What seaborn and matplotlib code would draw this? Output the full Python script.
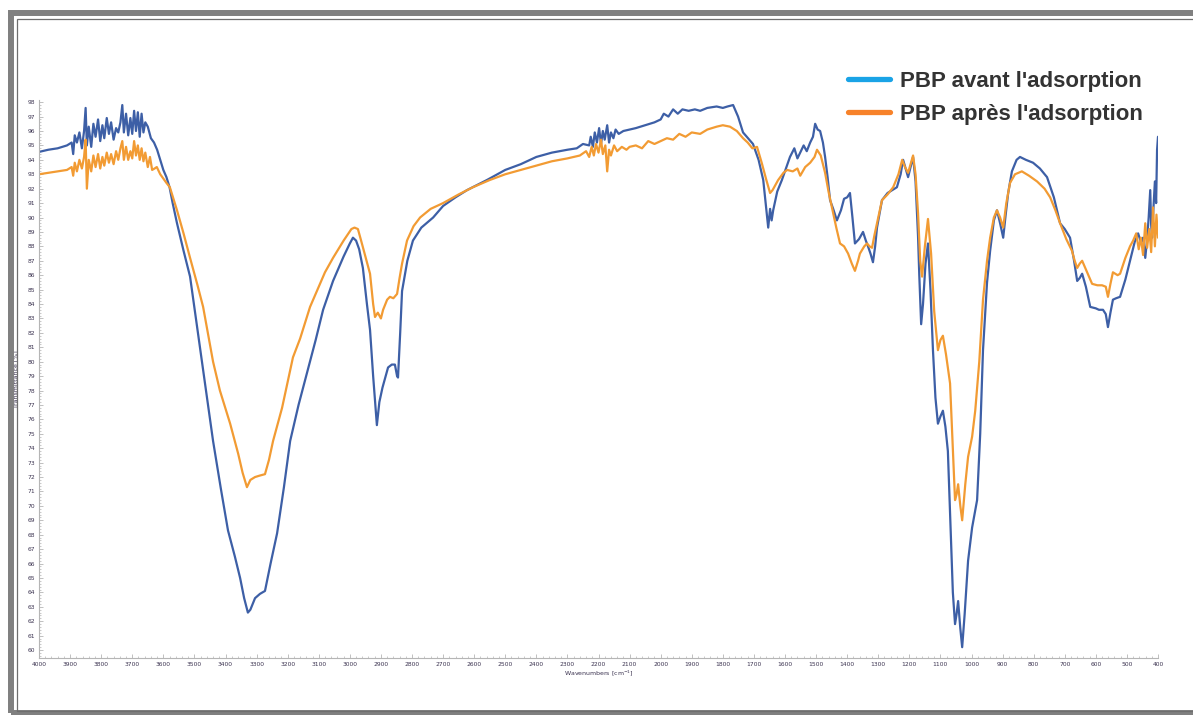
import numpy as np
import pandas as pd
import matplotlib
matplotlib.use("Agg")
import matplotlib.pyplot as plt
import seaborn as sns
from matplotlib.lines import Line2D
from matplotlib.patches import Rectangle
from matplotlib.ticker import MultipleLocator

# FTIR spectra: wavenumber (cm-1) -> transmittance (%)
wn_avant = [4000, 3970, 3940, 3910, 3895, 3890, 3885, 3878, 3870, 3862, 3855, 3850, 3846, 3840,
            3832, 3825, 3818, 3810, 3803, 3796, 3790, 3782, 3775, 3768, 3760, 3752, 3745, 3738,
            3732, 3727, 3720, 3713, 3706, 3700, 3694, 3688, 3682, 3676, 3670, 3664, 3658, 3650,
            3640, 3630, 3620, 3610, 3600, 3590, 3580, 3570, 3556, 3535, 3514, 3482, 3466, 3440,
            3415, 3392, 3370, 3353, 3340, 3328, 3320, 3305, 3289, 3273, 3255, 3234, 3212, 3192,
            3165, 3138, 3110, 3086, 3054, 3020, 3000, 2990, 2980, 2970, 2958, 2945, 2935, 2925,
            2913, 2905, 2895, 2877, 2865, 2855, 2848, 2845, 2838, 2832, 2815, 2797, 2770, 2732,
            2700, 2660, 2623, 2559, 2500, 2450, 2400, 2350, 2300, 2270, 2250, 2230, 2225, 2218,
            2212, 2205, 2198, 2192, 2186, 2180, 2172, 2166, 2160, 2152, 2145, 2135, 2120, 2100,
            2080, 2050, 2020, 2000, 1990, 1975, 1960, 1945, 1930, 1910, 1890, 1873, 1850, 1820,
            1800, 1785, 1767, 1751, 1735, 1715, 1703, 1685, 1670, 1660, 1654, 1648, 1643, 1638,
            1625, 1610, 1597, 1584, 1570, 1560, 1551, 1540, 1530, 1519, 1510, 1503, 1495, 1487,
            1478, 1471, 1463, 1455, 1445, 1433, 1420, 1410, 1400, 1391, 1383, 1375, 1362, 1349,
            1340, 1333, 1325, 1317, 1310, 1304, 1288, 1270, 1255, 1240, 1228, 1220, 1212, 1204,
            1196, 1188, 1180, 1172, 1168, 1162, 1156, 1148, 1140, 1132, 1124, 1116, 1108, 1100,
            1092, 1084, 1076, 1068, 1060, 1053, 1048, 1043, 1036, 1030, 1022, 1011, 998, 982,
            972, 963, 950, 940, 928, 918, 908, 898, 890, 882, 870, 855, 844, 825, 802, 780, 757,
            735, 715, 700, 683, 670, 660, 652, 644, 632, 618, 600, 590, 577, 568, 561, 553, 545,
            535, 522, 505, 490, 475, 464, 455, 448, 441, 435, 430, 425, 422, 419, 415, 410, 406,
            403, 400]
t_avant = [94.55, 94.7, 94.8, 95.0, 95.2, 94.4, 95.7, 95.2, 95.9, 94.8, 96.0, 97.6, 95.0, 96.3,
           94.9, 96.5, 95.6, 96.8, 95.3, 96.4, 95.5, 96.9, 95.8, 96.6, 95.4, 96.2, 95.9, 96.6,
           97.8, 95.9, 97.2, 95.7, 96.9, 95.8, 97.4, 96.0, 97.3, 95.6, 97.2, 95.9, 96.6, 96.3,
           95.5, 95.2, 94.7, 94.0, 93.3, 92.8, 92.1, 91.0, 89.6, 87.7, 85.9, 81.0, 78.5, 74.5,
           71.2, 68.3, 66.5, 65.0, 63.6, 62.6, 62.8, 63.6, 63.9, 64.1, 66.0, 68.1, 71.3, 74.5,
           77.0, 79.2, 81.5, 83.6, 85.6, 87.3, 88.2, 88.6, 88.4, 87.8, 86.5, 84.0, 82.2, 79.0,
           75.6, 77.2, 78.2, 79.6, 79.8, 79.8, 79.0, 78.9, 82.0, 84.9, 87.0, 88.4, 89.3, 90.0,
           90.8, 91.4, 91.9, 92.6, 93.3, 93.7, 94.2, 94.5, 94.7, 94.8, 95.1, 95.0, 95.6, 94.9,
           95.9, 95.2, 96.2, 95.1, 96.0, 95.4, 96.4, 95.2, 95.9, 95.5, 96.1, 95.8, 96.0, 96.1,
           96.2, 96.4, 96.6, 96.8, 97.2, 97.0, 97.5, 97.2, 97.5, 97.4, 97.5, 97.4, 97.6, 97.7,
           97.6, 97.7, 97.8, 97.0, 95.9, 95.4, 95.1, 94.0, 92.6, 90.5, 89.3, 90.6, 89.8, 90.5,
           91.8, 92.6, 93.4, 94.2, 94.8, 94.1, 94.5, 95.0, 94.6, 95.2, 95.6, 96.5, 96.1, 96.0,
           95.2, 94.2, 92.8, 91.2, 90.6, 89.8, 90.5, 91.3, 91.4, 91.7, 90.0, 88.2, 88.5, 89.0,
           88.4, 88.0, 87.5, 86.9, 88.0, 89.3, 91.2, 91.7, 91.9, 92.1, 93.0, 94.0, 93.4, 92.8,
           93.5, 94.2, 92.5, 88.7, 86.0, 82.6, 84.0, 86.8, 88.2, 85.0, 80.8, 77.5, 75.7, 76.2,
           76.6, 75.5, 73.8, 69.0, 64.0, 61.8, 62.5, 63.4, 61.5, 60.2, 62.5, 66.2, 68.5, 70.4,
           75.0, 80.8, 85.5, 87.7, 89.8, 90.5, 89.6, 88.6, 90.2, 91.7, 93.2, 94.0, 94.2, 94.0,
           93.8, 93.4, 92.8, 91.4, 89.6, 89.2, 88.6, 87.0, 85.6, 85.8, 86.1, 85.2, 83.8, 83.7,
           83.6, 83.6, 83.3, 82.4, 83.4, 84.3, 84.4, 84.5, 85.7, 87.0, 88.3, 88.9, 88.3, 88.6,
           87.2, 88.5, 90.0, 91.9, 89.5, 88.6, 90.5, 92.5, 91.0, 94.7, 95.6]

wn_apres = [4000, 3970, 3940, 3910, 3895, 3890, 3885, 3878, 3870, 3862, 3855, 3850, 3846, 3840,
            3832, 3825, 3818, 3810, 3803, 3796, 3790, 3782, 3775, 3768, 3760, 3752, 3745, 3738,
            3732, 3727, 3720, 3713, 3706, 3700, 3694, 3688, 3682, 3676, 3670, 3664, 3658, 3650,
            3643, 3636, 3628, 3621, 3610, 3600, 3590, 3579, 3556, 3535, 3514, 3490, 3472, 3440,
            3418, 3385, 3359, 3345, 3331, 3320, 3305, 3290, 3273, 3260, 3247, 3218, 3183, 3160,
            3128, 3106, 3080, 3054, 3020, 2995, 2985, 2974, 2965, 2950, 2935, 2925, 2919, 2910,
            2900, 2893, 2880, 2871, 2860, 2848, 2840, 2832, 2816, 2795, 2774, 2740, 2700, 2650,
            2604, 2550, 2500, 2450, 2400, 2350, 2300, 2260, 2240, 2230, 2222, 2215, 2208, 2200,
            2192, 2186, 2178, 2172, 2166, 2160, 2150, 2140, 2125, 2110, 2100, 2080, 2060, 2040,
            2020, 2000, 1980, 1960, 1940, 1920, 1900, 1873, 1850, 1820, 1800, 1777, 1755, 1735,
            1720, 1705, 1690, 1675, 1660, 1648, 1640, 1622, 1605, 1593, 1575, 1560, 1551, 1535,
            1519, 1505, 1497, 1485, 1471, 1460, 1449, 1435, 1423, 1410, 1397, 1385, 1375, 1365,
            1359, 1345, 1336, 1328, 1320, 1312, 1304, 1288, 1270, 1252, 1235, 1223, 1214, 1204,
            1196, 1188, 1180, 1172, 1165, 1159, 1150, 1140, 1130, 1120, 1108, 1100, 1092, 1082,
            1069, 1060, 1053, 1048, 1043, 1036, 1030, 1020, 1011, 998, 988, 975, 963, 950, 940,
            928, 918, 908, 898, 888, 876, 860, 838, 815, 789, 765, 747, 730, 715, 695, 677, 668,
            660, 652, 644, 632, 612, 595, 580, 568, 561, 553, 545, 530, 522, 505, 490, 480, 470,
            462, 455, 448, 441, 435, 428, 422, 416, 410, 405, 400]
t_apres = [93.0, 93.1, 93.2, 93.3, 93.5, 92.9, 93.8, 93.2, 94.0, 93.4, 94.2, 95.4, 92.0, 94.0,
           93.2, 94.3, 93.5, 94.4, 93.4, 94.2, 93.6, 94.5, 93.8, 94.4, 93.7, 94.6, 94.0, 94.8,
           95.3, 94.0, 94.9, 94.0, 94.6, 94.1, 95.3, 94.3, 95.0, 94.0, 94.8, 93.9, 94.5, 93.5,
           94.2, 93.3, 93.4, 93.5, 93.0, 92.7, 92.4, 92.1, 90.5, 88.9, 87.2, 85.3, 83.8, 80.0,
           78.0, 75.7, 73.6, 72.3, 71.3, 71.8, 72.0, 72.1, 72.2, 73.2, 74.5, 76.8, 80.3, 81.6,
           83.8, 84.9, 86.2, 87.2, 88.4, 89.2, 89.3, 89.2, 88.5, 87.3, 86.1, 84.0, 83.1, 83.4,
           83.0, 83.6, 84.3, 84.5, 84.4, 84.7, 85.8, 86.8, 88.4, 89.4, 90.0, 90.6, 91.0, 91.6,
           92.1, 92.6, 93.0, 93.3, 93.6, 93.9, 94.1, 94.3, 94.6, 94.2, 94.9, 94.3, 95.1, 94.5,
           95.4, 94.4, 95.0, 93.2, 94.7, 94.3, 95.0, 94.6, 94.9, 94.7, 94.9, 95.0, 94.8, 95.3,
           95.1, 95.3, 95.5, 95.4, 95.8, 95.6, 95.9, 95.8, 96.1, 96.3, 96.4, 96.3, 96.0, 95.5,
           95.2, 94.8, 94.9, 93.8, 92.6, 91.7, 91.9, 92.6, 93.1, 93.3, 93.2, 93.4, 92.9, 93.5,
           93.8, 94.2, 94.7, 94.3, 93.1, 91.8, 90.7, 89.3, 88.2, 88.0, 87.5, 86.8, 86.3, 87.0,
           87.5, 88.0, 88.2, 88.0, 87.9, 88.8, 89.6, 91.2, 91.6, 92.1, 93.0, 94.0, 93.5, 93.1,
           93.7, 94.3, 93.0, 90.3, 87.0, 85.9, 88.0, 89.9, 87.5, 83.5, 80.8, 81.5, 81.8, 80.5,
           78.5, 74.0, 70.4, 70.8, 71.5, 70.0, 69.0, 71.5, 73.4, 74.8, 76.6, 80.0, 84.3, 87.0, 88.6,
           90.0, 90.5, 90.0, 89.3, 91.0, 92.4, 93.0, 93.2, 92.9, 92.5, 92.0, 91.4, 90.5, 89.6, 88.5,
           87.7, 87.0, 86.5, 86.8, 87.0, 86.4, 85.4, 85.3, 85.3, 85.2, 84.5, 85.4, 86.2, 86.0, 86.1,
           87.2, 88.0, 88.4, 88.9, 87.8, 88.6, 87.4, 89.6, 87.9, 89.2, 87.6, 90.7, 88.0, 90.2, 88.6]

labels = ["PBP avant l'adsorption", "PBP après l'adsorption"]
line_colors = {labels[0]: "#3d5fa6", labels[1]: "#f29b33"}
legend_colors = ["#1aa3e6", "#f7822a"]

df = pd.concat([
    pd.DataFrame({"wavenumber": wn_avant, "T": t_avant, "sample": labels[0]}),
    pd.DataFrame({"wavenumber": wn_apres, "T": t_apres, "sample": labels[1]}),
])

sns.set_theme(style="white")
plt.rcParams["font.family"] = ["DejaVu Sans"]

W, H = 1193, 715
fig = plt.figure(figsize=(W / 100, H / 100), dpi=100)
ax = fig.add_axes([39 / W, (H - 658) / H, (1158 - 39) / W, (658 - 100) / H])

sns.lineplot(data=df, x="wavenumber", y="T", hue="sample", palette=line_colors,
             sort=False, estimator=None, linewidth=1.6, legend=False, ax=ax)

ax.set_xlim(4000, 400)
ax.set_ylim(59.45, 98.15)
ax.xaxis.set_major_locator(MultipleLocator(100))
ax.xaxis.set_minor_locator(MultipleLocator(20))
ax.yaxis.set_major_locator(MultipleLocator(1))
ax.yaxis.set_minor_locator(MultipleLocator(0.2))
ax.tick_params(which="both", direction="in", colors="#b5b5b5", labelcolor="#3b3350",
               labelsize=4.3, pad=3)
ax.tick_params(which="major", length=3, width=0.6)
ax.tick_params(which="minor", length=1.5, width=0.5)
ax.tick_params(axis="y", which="both", left=True)
ax.tick_params(axis="x", which="both", bottom=True)
for s in ["top", "right"]:
    ax.spines[s].set_visible(False)
for s in ["left", "bottom"]:
    ax.spines[s].set_color("#b5b5b5")
    ax.spines[s].set_linewidth(0.8)

ax.set_xlabel("Wavenumbers [cm$^{-1}$]", fontsize=4.5, color="#3b3350", labelpad=1)
ax.set_ylabel("Transmittance [%]", fontsize=4.5, color="#3b3350", labelpad=6)

handles = [Line2D([], [], color=c, linewidth=3.8, solid_capstyle="round") for c in legend_colors]
leg = fig.legend(handles, labels, loc="upper left", bbox_to_anchor=(848 / W, 1 - 71 / H),
                 frameon=False, borderpad=0, borderaxespad=0, handlelength=1.9,
                 handletextpad=0.45, labelspacing=0.52,
                 prop={"family": "Liberation Sans", "weight": "bold", "size": 16})
for t in leg.get_texts():
    t.set_color("#333333")

# picture frame
tr = fig.transFigure
fig.add_artist(Rectangle((11 / W, 1 - 713 / H), 1.2, (713 - 13) / H, transform=tr,
                         fill=False, edgecolor="#808080", linewidth=4.3, clip_on=False))
fig.add_artist(Rectangle((16.5 / W, 1 - 710.5 / H), 1.2, (710.5 - 18.5) / H, transform=tr,
                         fill=False, edgecolor="#6e6e6e", linewidth=0.9, clip_on=False))

fig.savefig("out.png", dpi=100)
